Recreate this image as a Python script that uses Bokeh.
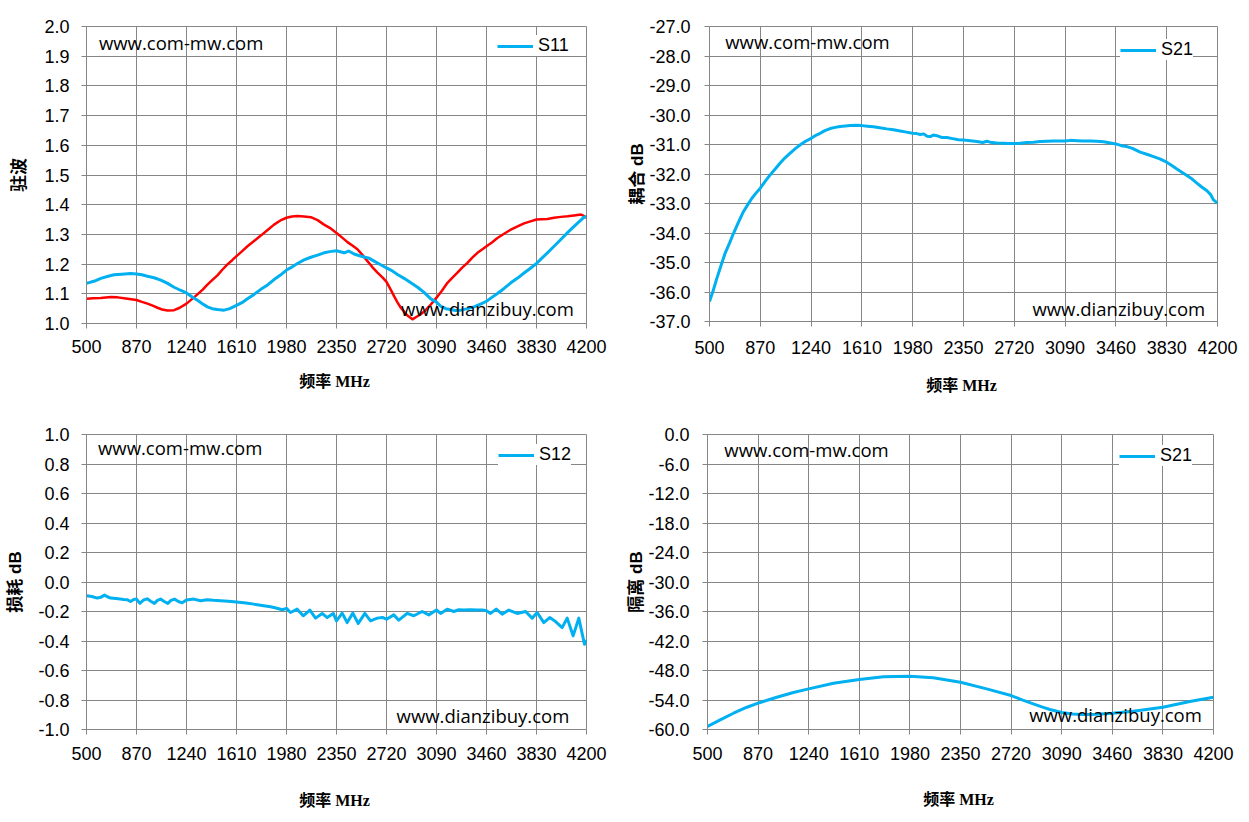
from bokeh.plotting import figure
from bokeh.models import Range1d, FixedTicker, NumeralTickFormatter, Legend, LegendItem, Label
from bokeh.layouts import column, row
from bokeh.embed import file_html
from bokeh.resources import INLINE

# ---------------- data ----------------
freq_ticks = [500, 870, 1240, 1610, 1980, 2350, 2720, 3090, 3460, 3830, 4200]

vswr_ticks = [1.0, 1.1, 1.2, 1.3, 1.4, 1.5, 1.6, 1.7, 1.8, 1.9, 2.0]
coup_ticks = [-37.0, -36.0, -35.0, -34.0, -33.0, -32.0, -31.0, -30.0, -29.0, -28.0, -27.0]
loss_ticks = [-1.0, -0.8, -0.6, -0.4, -0.2, 0.0, 0.2, 0.4, 0.6, 0.8, 1.0]
iso_ticks = [-60.0, -54.0, -48.0, -42.0, -36.0, -30.0, -24.0, -18.0, -12.0, -6.0, 0.0]

s11_blue_f = [500, 560, 606, 660, 704, 760, 828, 870, 910, 951, 1000, 1050, 1100, 1148, 1195,
              1240, 1280, 1321, 1360, 1395, 1430, 1469, 1518, 1560, 1610, 1650, 1691, 1740,
              1790, 1840, 1888, 1935, 1980, 2020, 2061, 2110, 2160, 2210, 2258, 2300, 2350,
              2406, 2440, 2480, 2520, 2554, 2590, 2628, 2680, 2720, 2760, 2801, 2850, 2900,
              2950, 2998, 3048, 3090, 3122, 3160, 3196, 3230, 3270, 3320, 3368, 3420, 3460,
              3500, 3541, 3590, 3640, 3690, 3738, 3785, 3830, 3870, 3911, 3960, 4010, 4060,
              4108, 4150, 4182, 4200]
s11_blue_v = [1.135, 1.143, 1.152, 1.159, 1.164, 1.166, 1.168, 1.167, 1.164, 1.159, 1.154,
              1.146, 1.135, 1.122, 1.112, 1.103, 1.090, 1.078, 1.066, 1.056, 1.050, 1.047,
              1.045, 1.050, 1.061, 1.070, 1.083, 1.098, 1.115, 1.130, 1.148, 1.163, 1.180,
              1.190, 1.202, 1.214, 1.223, 1.230, 1.238, 1.242, 1.245, 1.238, 1.244, 1.234,
              1.228, 1.224, 1.220, 1.210, 1.197, 1.187, 1.178, 1.165, 1.152, 1.137, 1.122,
              1.105, 1.083, 1.072, 1.058, 1.050, 1.047, 1.044, 1.045, 1.050, 1.056, 1.066,
              1.075, 1.088, 1.101, 1.118, 1.137, 1.153, 1.170, 1.186, 1.202, 1.220, 1.238,
              1.260, 1.283, 1.306, 1.327, 1.345, 1.358, 1.360]

s11_red_f = [500, 550, 606, 680, 730, 778, 830, 870, 910, 951, 990, 1025, 1060, 1099, 1148,
             1190, 1240, 1280, 1321, 1360, 1395, 1430, 1469, 1505, 1543, 1580, 1610, 1650,
             1691, 1740, 1790, 1840, 1888, 1935, 1980, 2020, 2061, 2110, 2160, 2210, 2258,
             2300, 2350, 2390, 2431, 2470, 2505, 2540, 2579, 2615, 2653, 2690, 2720, 2750,
             2776, 2800, 2826, 2850, 2875, 2912, 2940, 2974, 3010, 3048, 3090, 3130, 3171,
             3210, 3245, 3280, 3319, 3355, 3393, 3430, 3460, 3500, 3541, 3590, 3640, 3690,
             3738, 3785, 3830, 3870, 3911, 3960, 4010, 4060, 4108, 4158, 4180, 4200]
s11_red_v = [1.083, 1.085, 1.086, 1.089, 1.088, 1.085, 1.082, 1.079, 1.073, 1.067, 1.060,
             1.053, 1.047, 1.044, 1.045, 1.053, 1.067, 1.082, 1.098, 1.114, 1.131, 1.146,
             1.162, 1.181, 1.199, 1.214, 1.227, 1.243, 1.260, 1.278, 1.296, 1.315, 1.333,
             1.347, 1.356, 1.360, 1.362, 1.360, 1.358, 1.348, 1.333, 1.322, 1.305, 1.290,
             1.274, 1.262, 1.250, 1.232, 1.210, 1.190, 1.171, 1.155, 1.140, 1.115, 1.092,
             1.072, 1.053, 1.040, 1.027, 1.014, 1.022, 1.031, 1.045, 1.064, 1.087, 1.110,
             1.137, 1.155, 1.171, 1.188, 1.204, 1.222, 1.238, 1.250, 1.260, 1.273, 1.288,
             1.302, 1.316, 1.327, 1.337, 1.344, 1.350, 1.351, 1.352, 1.356, 1.359, 1.361,
             1.364, 1.367, 1.362, 1.356]

s21_f = [500, 527, 554, 584, 614, 645, 675, 712, 748, 780, 809, 840, 870, 905, 942, 980, 1015,
         1050, 1088, 1125, 1161, 1200, 1240, 1270, 1306, 1340, 1379, 1415, 1452, 1490, 1525,
         1570, 1610, 1650, 1694, 1740, 1792, 1840, 1889, 1935, 1980, 2010, 2035, 2060, 2085,
         2108, 2130, 2156, 2190, 2229, 2270, 2313, 2350, 2400, 2447, 2490, 2520, 2544, 2590,
         2641, 2680, 2720, 2760, 2812, 2860, 2908, 2960, 3005, 3050, 3090, 3130, 3176, 3220,
         3273, 3320, 3370, 3420, 3460, 3500, 3540, 3580, 3637, 3690, 3734, 3780, 3830, 3870,
         3904, 3940, 3977, 4015, 4050, 4085, 4123, 4150, 4171, 4200]
s21_v = [-36.32, -35.95, -35.53, -35.10, -34.68, -34.35, -34.01, -33.62, -33.27, -33.03,
         -32.82, -32.64, -32.48, -32.25, -32.03, -31.82, -31.63, -31.45, -31.29, -31.14,
         -31.01, -30.89, -30.79, -30.70, -30.62, -30.53, -30.46, -30.42, -30.39, -30.37,
         -30.36, -30.35, -30.36, -30.38, -30.40, -30.43, -30.47, -30.50, -30.54, -30.58,
         -30.62, -30.63, -30.66, -30.64, -30.72, -30.73, -30.68, -30.70, -30.76, -30.76,
         -30.80, -30.84, -30.85, -30.87, -30.90, -30.93, -30.89, -30.92, -30.95, -30.96,
         -30.97, -30.97, -30.96, -30.93, -30.92, -30.90, -30.89, -30.88, -30.88, -30.88,
         -30.86, -30.87, -30.88, -30.88, -30.89, -30.91, -30.95, -30.98, -31.04, -31.07,
         -31.13, -31.26, -31.34, -31.41, -31.49, -31.60, -31.72, -31.83, -31.94, -32.05,
         -32.17, -32.31, -32.44, -32.57, -32.70, -32.88, -32.99]

s12_f = [500, 540, 579, 605, 633, 655, 678, 720, 776, 800, 826, 850, 870, 895, 922, 949, 975,
         1003, 1025, 1048, 1075, 1102, 1125, 1151, 1180, 1208, 1240, 1294, 1344, 1393, 1440,
         1492, 1550, 1610, 1680, 1738, 1800, 1862, 1910, 1948, 1980, 2010, 2059, 2104, 2153,
         2195, 2244, 2281, 2326, 2350, 2392, 2429, 2471, 2511, 2560, 2602, 2651, 2690, 2720,
         2774, 2811, 2873, 2922, 2984, 3033, 3090, 3120, 3169, 3218, 3255, 3292, 3340, 3391,
         3430, 3460, 3490, 3532, 3576, 3625, 3687, 3749, 3798, 3835, 3884, 3928, 3971, 4020,
         4057, 4101, 4143, 4185, 4200]
s12_v = [-0.093, -0.098, -0.109, -0.104, -0.089, -0.100, -0.109, -0.112, -0.118, -0.120,
         -0.132, -0.118, -0.116, -0.145, -0.122, -0.114, -0.130, -0.145, -0.125, -0.116,
         -0.132, -0.145, -0.125, -0.116, -0.132, -0.141, -0.122, -0.116, -0.127, -0.120,
         -0.124, -0.127, -0.131, -0.136, -0.143, -0.150, -0.159, -0.168, -0.178, -0.188,
         -0.179, -0.207, -0.184, -0.229, -0.190, -0.245, -0.213, -0.241, -0.213, -0.263,
         -0.211, -0.275, -0.211, -0.281, -0.213, -0.263, -0.245, -0.240, -0.252, -0.223,
         -0.259, -0.213, -0.229, -0.200, -0.223, -0.190, -0.213, -0.184, -0.200, -0.188,
         -0.190, -0.188, -0.190, -0.189, -0.195, -0.213, -0.184, -0.218, -0.190, -0.213,
         -0.200, -0.245, -0.207, -0.275, -0.241, -0.268, -0.309, -0.245, -0.365, -0.245,
         -0.422, -0.395]

iso_f = [500, 593, 690, 788, 870, 1007, 1128, 1240, 1421, 1610, 1786, 1980, 2151, 2350, 2541,
         2720, 2800, 2882, 2950, 3004, 3090, 3170, 3247, 3350, 3460, 3613, 3830, 4027, 4200]
iso_v = [-59.39, -58.04, -56.69, -55.47, -54.65, -53.43, -52.48, -51.73, -50.58, -49.83,
         -49.29, -49.15, -49.49, -50.38, -51.73, -53.09, -53.97, -54.78, -55.45, -55.94,
         -56.55, -56.83, -56.96, -56.90, -56.69, -56.28, -55.47, -54.31, -53.43]

# ---------------- styling ----------------
GRID = "#868686"
BLUE = "#00B0F0"
RED = "#FF0000"
TICK_FONT = "Liberation Sans"
WM_FONT = "Open Sans"


def make_panel(fw, fh, bl, bt, br, bb, ylim, yticks, ylabel, ylab_font,
               x_tick_standoff, xlab_standoff, y_tick_standoff, ylab_standoff):
    p = figure(frame_width=fw, frame_height=fh,
               min_border_left=bl, min_border_top=bt, min_border_right=br, min_border_bottom=bb,
               x_range=Range1d(500, 4200), y_range=Range1d(*ylim),
               output_backend="svg", toolbar_location=None, tools="")
    p.background_fill_color = "white"
    p.border_fill_color = "white"
    p.outline_line_color = GRID
    p.outline_line_width = 1
    p.xaxis.ticker = FixedTicker(ticks=freq_ticks)
    p.yaxis.ticker = FixedTicker(ticks=yticks)
    p.yaxis.formatter = NumeralTickFormatter(format="0.0")
    for ax in (p.xaxis[0], p.yaxis[0]):
        ax.axis_line_color = GRID
        ax.major_tick_line_color = GRID
        ax.major_tick_out = 5
        ax.major_tick_in = 0
        ax.minor_tick_line_color = None
        ax.major_label_text_font = TICK_FONT
        ax.major_label_text_font_size = "18px"
        ax.major_label_text_color = "black"
        ax.axis_label_text_font_style = "bold"
        ax.axis_label_text_color = "black"
    p.xaxis.major_label_standoff = x_tick_standoff
    p.yaxis.major_label_standoff = y_tick_standoff
    p.xaxis.axis_label = "频率  MHz"
    p.xaxis.axis_label_text_font = "Liberation Serif, Noto Sans CJK SC"
    p.xaxis.axis_label_text_font_size = "16px"
    p.xaxis.axis_label_standoff = xlab_standoff
    p.yaxis.axis_label = ylabel
    p.yaxis.axis_label_text_font = ylab_font
    p.yaxis.axis_label_text_font_size = "17px"
    p.yaxis.axis_label_standoff = ylab_standoff
    p.xgrid.grid_line_color = GRID
    p.ygrid.grid_line_color = GRID
    p.xgrid.grid_line_width = 1
    p.ygrid.grid_line_width = 1
    return p


def add_watermarks(p, x1, y1, x2, y2):
    p.add_layout(Label(x=x1, y=y1, text="www.com-mw.com", text_font=WM_FONT,
                       text_font_size="18.5px", text_baseline="middle", text_align="left",
                       text_color="black"))
    p.add_layout(Label(x=x2, y=y2, text="www.dianzibuy.com", text_font=WM_FONT,
                       text_font_size="18.5px", text_baseline="middle", text_align="right",
                       text_color="black"))


def add_legend(p, renderer, label, loc):
    leg = Legend(items=[LegendItem(label=label, renderers=[renderer])], location=loc,
                 background_fill_color="white", background_fill_alpha=1.0,
                 border_line_color=None, padding=8, margin=0, glyph_width=36, glyph_height=20,
                 label_standoff=5, label_text_font=TICK_FONT, label_text_font_size="18px",
                 label_text_color="black", spacing=0)
    p.add_layout(leg)


# Panel 1: VSWR
p1 = make_panel(500, 297, 86, 26, 33, 87, (1.0, 2.0), vswr_ticks, "驻波",
                "Noto Sans CJK SC", 11, 17, 12, 11)
add_watermarks(p1, 592, 1.947, 4106, 1.049)
p1.line(s11_red_f, s11_red_v, line_color=RED, line_width=2.5, line_join="round")
r1 = p1.line(s11_blue_f, s11_blue_v, line_color=BLUE, line_width=3, line_join="round")
add_legend(p1, r1, "S11", (411, 267))

# Panel 2: coupling
p2 = make_panel(508, 295, 90, 26, 24, 89, (-37.0, -27.0), coup_ticks, "耦合 dB",
                "Liberation Sans, Noto Sans CJK SC", 14, 20, 14, -1)
add_watermarks(p2, 615, -27.5, 4110, -36.55)
r2 = p2.line(s21_f, s21_v, line_color=BLUE, line_width=3, line_join="round")
add_legend(p2, r2, "S21", (411, 261))

# Panel 3: insertion loss
p3 = make_panel(500, 295, 86, 24, 33, 85, (-1.0, 1.0), loss_ticks, "损耗 dB",
                "Liberation Sans, Noto Sans CJK SC", 12, 29, 12, 10)
add_watermarks(p3, 585, 0.912, 4073, -0.903)
r3 = p3.line(s12_f, s12_v, line_color=BLUE, line_width=3, line_join="round")
add_legend(p3, r3, "S12", (412, 264))

# Panel 4: isolation
p4 = make_panel(506, 295, 88, 24, 30, 85, (-60.0, 0.0), iso_ticks, "隔离 dB",
                "Liberation Sans, Noto Sans CJK SC", 12, 28, 13, -1)
add_watermarks(p4, 623, -3.05, 4115, -56.95)
r4 = p4.line(iso_f, iso_v, line_color=BLUE, line_width=3, line_join="round")
add_legend(p4, r4, "S21", (412, 263))

layout = column(row(p1, p2), row(p3, p4))

open("out.html", "w").write(file_html(layout, INLINE))
